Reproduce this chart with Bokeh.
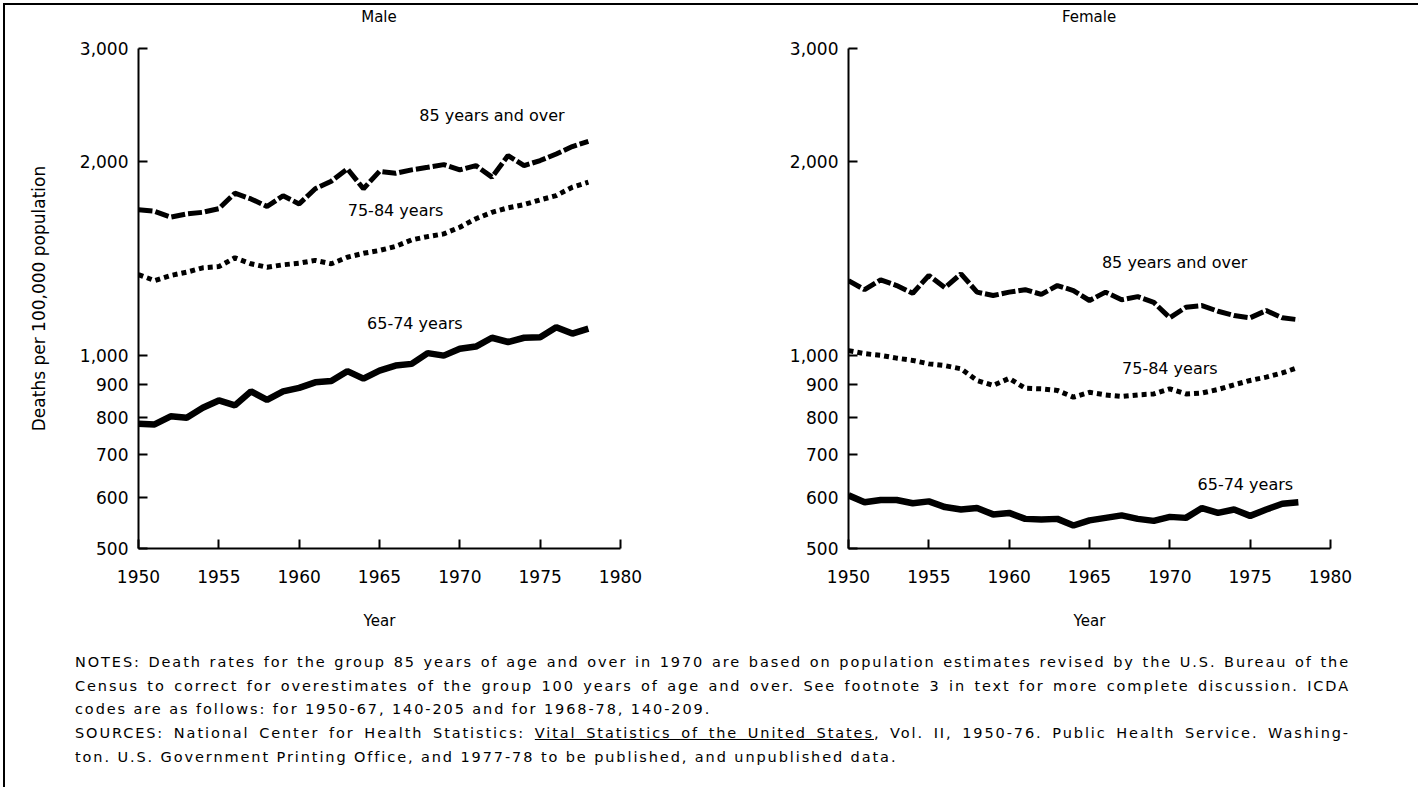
from bokeh.plotting import figure
from bokeh.models import Range1d, FixedTicker, NumeralTickFormatter, Label, Div
from bokeh.layouts import row, column
from bokeh.embed import file_html
from bokeh.resources import INLINE

years = list(range(1950, 1979))

male_65_74 = [782, 780, 803, 799, 828, 850, 835, 878, 852, 878, 889, 907, 911, 944, 919,
              946, 963, 969, 1007, 998, 1023, 1031, 1064, 1048, 1064, 1066, 1105, 1080, 1099]
male_75_84 = [1334, 1306, 1330, 1346, 1367, 1373, 1417, 1387, 1370, 1382, 1390, 1404, 1387, 1420, 1440,
              1455, 1476, 1511, 1529, 1544, 1581, 1630, 1668, 1695, 1715, 1744, 1771, 1825, 1858]
male_85_over = [1683, 1674, 1639, 1658, 1668, 1690, 1786, 1750, 1703, 1770, 1719, 1815, 1865, 1949, 1815,
                1932, 1918, 1942, 1960, 1979, 1942, 1972, 1892, 2044, 1972, 2008, 2056, 2111, 2151]

female_65_74 = [605, 590, 595, 595, 588, 592, 580, 575, 578, 565, 568, 556, 555, 556, 543,
                553, 558, 563, 556, 552, 560, 558, 578, 568, 575, 562, 575, 587, 590]
female_75_84 = [1016, 1005, 999, 989, 981, 969, 963, 952, 913, 897, 920, 888, 886, 881, 860,
                875, 867, 862, 867, 870, 886, 870, 873, 884, 899, 913, 924, 938, 957]
female_85_over = [1306, 1264, 1309, 1283, 1248, 1330, 1273, 1338, 1253, 1238, 1253, 1264, 1243, 1283, 1260,
                  1216, 1253, 1219, 1233, 1208, 1143, 1187, 1194, 1170, 1152, 1143, 1173, 1143, 1135]

y_ticks = [500, 600, 700, 800, 900, 1000, 2000, 3000]
x_ticks = [1950, 1955, 1960, 1965, 1970, 1975, 1980]
series_names = ["85 years and over", "75-84 years", "65-74 years"]
panel_titles = ["Male", "Female"]

FONT = "DejaVu Sans"


def make_panel(s85, s75, s65, label_pos, ylabel, width, left, right):
    p = figure(width=width, height=613, y_axis_type="log",
               x_range=Range1d(1950, 1980), y_range=Range1d(500, 3000),
               output_backend="svg", toolbar_location=None,
               min_border_left=left, min_border_right=right,
               min_border_top=17, min_border_bottom=96)
    p.outline_line_color = None
    p.grid.visible = False
    p.background_fill_color = "white"
    p.border_fill_color = "white"

    p.line(years, s85, line_color="black", line_width=5, line_dash="14 3")
    p.line(years, s75, line_color="black", line_width=5, line_dash="5 4")
    p.line(years, s65, line_color="black", line_width=6.5)

    for name, (lx, ly) in zip(series_names, label_pos):
        p.add_layout(Label(x=lx, y=ly, text=name, text_align="center", text_baseline="middle",
                           text_font=FONT, text_font_size="16px", text_color="black"))

    for ax in (p.xaxis[0], p.yaxis[0]):
        ax.axis_line_width = 2
        ax.axis_line_color = "black"
        ax.major_tick_in = 9
        ax.major_tick_out = 0
        ax.major_tick_line_width = 2
        ax.major_tick_line_color = "black"
        ax.minor_tick_line_color = None
        ax.major_label_text_font = FONT
        ax.major_label_text_font_size = "17px"
        ax.major_label_text_color = "black"
        ax.axis_label_text_font = FONT
        ax.axis_label_text_font_style = "normal"
        ax.axis_label_text_color = "black"

    p.xaxis.ticker = FixedTicker(ticks=x_ticks)
    p.xaxis.major_label_standoff = 21
    p.xaxis.axis_label = "Year"
    p.xaxis.axis_label_text_font_size = "15px"
    p.xaxis.axis_label_standoff = 26

    p.yaxis.ticker = FixedTicker(ticks=y_ticks)
    p.yaxis.formatter = NumeralTickFormatter(format="0,0")
    p.yaxis.major_label_standoff = 10
    if ylabel:
        p.yaxis.axis_label = ylabel
        p.yaxis.axis_label_text_font_size = "17px"
        p.yaxis.axis_label_standoff = 28
    return p


male = make_panel(male_85_over, male_75_84, male_65_74,
                  [(1972.0, 2360), (1966.0, 1679), (1967.2, 1120)],
                  "Deaths per 100,000 population", 715, 133, 100)
female = make_panel(female_85_over, female_75_84, female_65_74,
                    [(1970.3, 1394), (1970.0, 953), (1974.7, 629)],
                    None, 698, 128, 88)

span = ("position:absolute;top:3px;width:482px;text-align:center;line-height:18px;"
        f"font-family:'{FONT}';font-size:15px;color:black;")
titles_html = (
    '<div style="position:relative;height:26px;width:1400px;">'
    f'<span style="{span}left:133px;">{panel_titles[0]}</span>'
    f'<span style="{span}left:843px;">{panel_titles[1]}</span>'
    '</div>'
)
titles = Div(text=titles_html, width=1413, height=26, margin=0,
             styles={"font-family": FONT, "font-size": "15px", "color": "black"})

full = "display:block;text-align:justify;text-align-last:justify;width:1275px;white-space:nowrap;"
part = "display:block;white-space:nowrap;"
notes_html = (
    f'<span style="{full}">NOTES: Death rates for the group 85 years of age and over in 1970 are based on population estimates revised by the U.S. Bureau of the</span>'
    f'<span style="{full}">Census to correct for overestimates of the group 100 years of age and over. See footnote 3 in text for more complete discussion. ICDA</span>'
    f'<span style="{part}">codes are as follows: for 1950-67, 140-205 and for 1968-78, 140-209.</span>'
    f'<span style="{full}">SOURCES: National Center for Health Statistics: <u>Vital Statistics of the United States</u>, Vol. II, 1950-76. Public Health Service. Washing-</span>'
    f'<span style="{part}">ton. U.S. Government Printing Office, and 1977-78 to be published, and unpublished data.</span>'
)
notes = Div(text=notes_html, width=1345, height=133,
            styles={"font-family": FONT, "font-size": "14.5px", "line-height": "23.7px",
                    "letter-spacing": "1.9px", "color": "black", "padding-left": "65px",
                    "padding-top": "2px"})

layout = column(titles, row(male, female), notes,
                styles={"border-top": "2px solid black", "border-left": "2px solid black",
                        "margin-left": "3px", "margin-top": "3px",
                        "background-color": "white"})

open("out.html", "w").write(file_html(layout, INLINE))
